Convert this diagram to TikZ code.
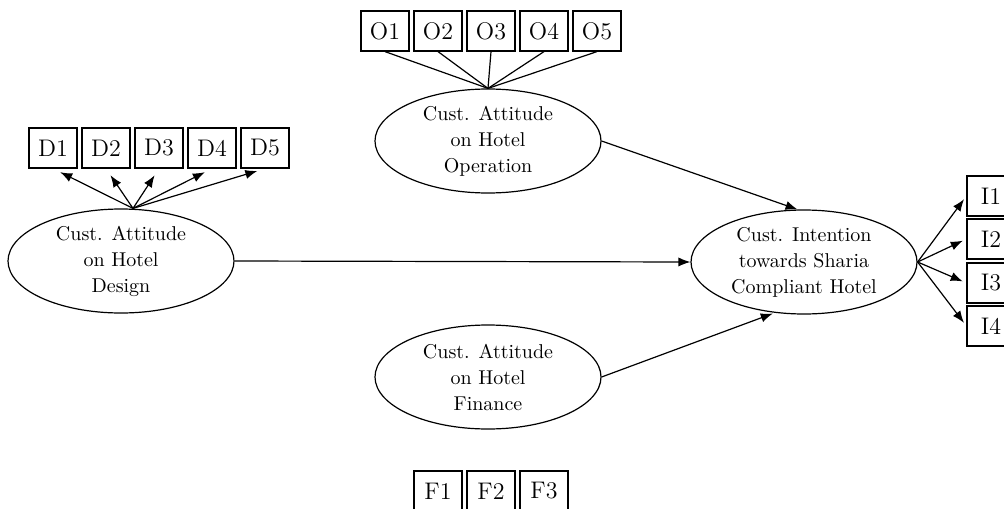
\documentclass[tikz,border=0pt]{standalone}
\usepackage{tikz}
\usetikzlibrary{arrows.meta,positioning,shapes}

\begin{document}
\begin{tikzpicture}[x=0.5pt, y=-0.5pt,
    latent/.style={draw, ellipse, line width=0.6pt, minimum width=113pt, minimum height=52pt, inner sep=0pt, align=center, font=\fontsize{10}{13}\selectfont},
    item/.style={draw, rectangle, line width=0.6pt, minimum width=24pt, minimum height=20pt, inner sep=0pt, font=\fontsize{12}{14}\selectfont},
    effect/.style={line width=0.6pt, -{Latex[length=6pt,width=4.6pt]}}]
    \useasboundingbox (0,0) rectangle (1004,508);
    \clip (0,0) rectangle (1004,508);

    % latent constructs
    \node[latent] (oper) at (488,141) {Cust. Attitude\\on Hotel\\Operation};
    \node[latent] (design) at (121,261) {Cust. Attitude\\on Hotel\\Design};
    \node[latent] (finance) at (488,377) {Cust. Attitude\\on Hotel\\Finance};
    \node[latent] (intent) at (804,262) {Cust. Intention\\towards Sharia\\Compliant Hotel};

    % O items (operation)
    \foreach \i/\x in {1/385,2/438,3/491,4/544,5/597} {
      \node[item] (o\i) at (\x,31) {O\i};
      \draw[line width=0.6pt] (o\i.south) -- (oper.north);
    }

    % D items (design)
    \coordinate (dtop) at ([xshift=6pt]design.north);
    \foreach \i/\x in {1/53,2/106,3/159,4/212,5/265} {
      \node[item] (d\i) at (\x,148) {D\i};
      \draw[effect, shorten >=4pt] (dtop) -- (d\i.south);
    }

    % I items (intention)
    \foreach \i/\y in {1/196,2/239,3/283,4/326} {
      \node[item] (i\i) at (991,\y) {I\i};
      \draw[effect, shorten >=2pt] (intent.east) -- (i\i.west);
    }

    % F items (finance)
    \foreach \i/\x in {1/438,2/491,3/544}
      \node[item] (f\i) at (\x,491) {F\i};

    % structural paths
    \draw[effect] (oper.east) -- (intent.97);
    \draw[effect] (design.east) -- (intent.west);
    \draw[effect, shorten >=1pt] (finance.east) -- (intent.240);
\end{tikzpicture}
\end{document}
